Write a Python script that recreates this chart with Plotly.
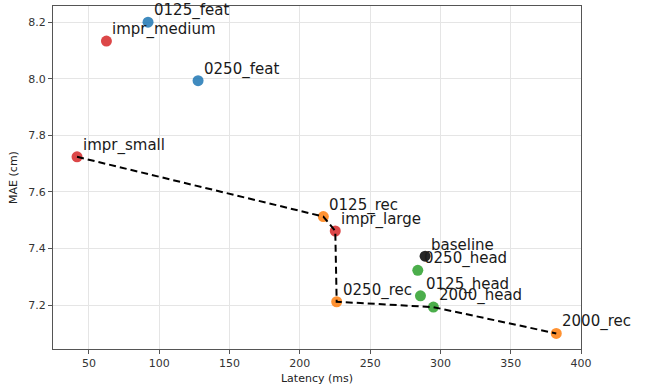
import plotly.graph_objects as go

names = ["0125_feat", "impr_medium", "0250_feat", "impr_small", "0125_rec", "impr_large",
         "baseline", "0250_head", "0125_head", "2000_head", "0250_rec", "2000_rec"]
latency = [92.0, 62.4, 127.6, 41.5, 216.7, 225.2, 289.1, 283.9, 285.8, 295.0, 226.2, 382.4]
mae = [8.20, 8.133, 7.993, 7.724, 7.513, 7.462, 7.373, 7.323, 7.233, 7.193, 7.212, 7.100]
groups = ["feat", "impr", "feat", "impr", "rec", "impr", "base", "head", "head", "head", "rec", "rec"]

pareto = ["impr_small", "0125_rec", "impr_large", "0250_rec", "2000_head", "2000_rec"]

group_colors = {
    "feat": "rgba(31,119,180,0.85)",
    "impr": "rgba(214,39,40,0.85)",
    "rec": "rgba(255,127,14,0.85)",
    "head": "rgba(44,160,44,0.85)",
    "base": "rgba(0,0,0,0.85)",
}

fig = go.Figure()
fig.add_trace(go.Scatter(
    x=latency, y=mae, mode="markers",
    marker=dict(size=11, color=[group_colors[g] for g in groups], line=dict(width=0)),
    hovertext=names, showlegend=False,
))

px = [latency[names.index(n)] for n in pareto]
py = [mae[names.index(n)] for n in pareto]
fig.add_trace(go.Scatter(
    x=px, y=py, mode="lines",
    line=dict(color="black", width=2, dash="7px,4px"),
    showlegend=False,
))

for n, x, y in zip(names, latency, mae):
    fig.add_annotation(x=x, y=y, text=n, showarrow=False, xanchor="left", yanchor="bottom",
                       xshift=4, yshift=0,
                       font=dict(family="DejaVu Sans", size=15, color="#1a1a1a"))

axis_common = dict(
    showgrid=True, gridcolor="#e5e5e5", gridwidth=1,
    showline=True, linecolor="#555555", linewidth=1.3, mirror=True,
    ticks="outside", ticklen=4, tickcolor="#555555", tickwidth=1,
    tickfont=dict(family="DejaVu Sans", size=11, color="#333333"),
    zeroline=False, automargin=False,
)

fig.update_xaxes(range=[24.4, 400], dtick=50, tick0=0,
                 title=dict(text="Latency (ms)", font=dict(family="DejaVu Sans", size=11, color="#222"), standoff=4),
                 **axis_common)
fig.update_yaxes(range=[7.045, 8.257], dtick=0.2, tick0=7.2, tickformat=".1f",
                 title=dict(text="MAE (cm)", font=dict(family="DejaVu Sans", size=11, color="#222"), standoff=8),
                 **axis_common)

fig.update_layout(
    width=650, height=388,
    margin=dict(l=53, r=69, t=6, b=39),
    plot_bgcolor="white", paper_bgcolor="white",
    showlegend=False,
)

fig.write_html("out.html", config={"displayModeBar": False},
               post_script="document.body.style.margin='0';document.body.style.overflow='hidden';")
